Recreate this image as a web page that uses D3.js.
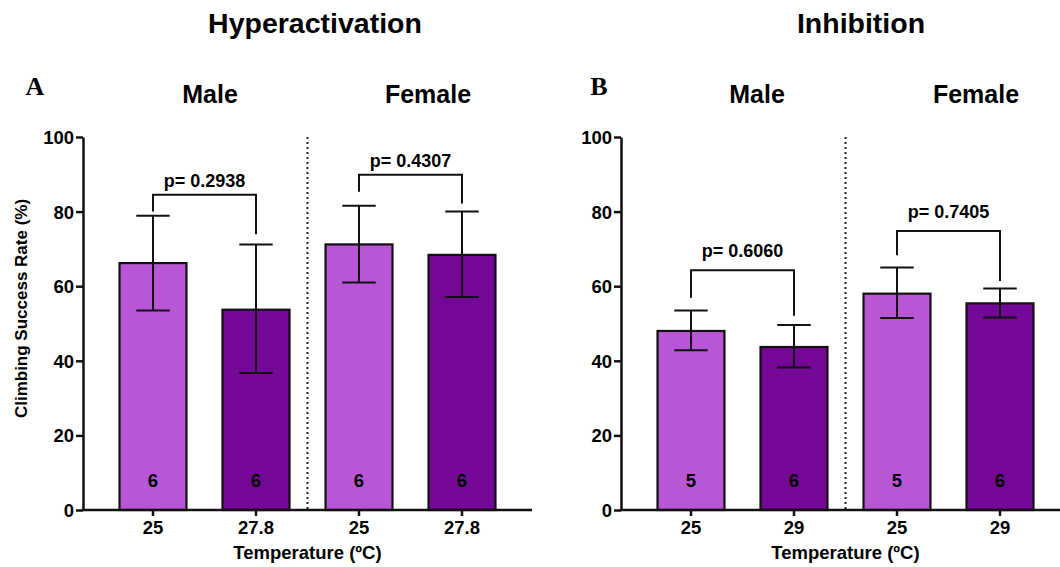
<!DOCTYPE html>
<html><head><meta charset="utf-8">
<script src="https://cdn.jsdelivr.net/npm/d3@7"></script>
<style>
body{margin:0;background:#fff;}
svg{display:block;}
text{font-family:"Liberation Sans",Arial,sans-serif;font-weight:bold;fill:#000;}
</style></head><body>
<svg id="c" width="1060" height="567"></svg>
<script>
// ---- data ----
const panels = ["Hyperactivation", "Inhibition"];
const panelLetters = ["A", "B"];
const sexes = ["Male", "Female"];
const tempLabelsA = ["25", "27.8", "25", "27.8"];
const tempLabelsB = ["25", "29", "25", "29"];
const meansA = [66.2, 53.7, 71.2, 68.4];
const errHiA = [78.9, 71.2, 81.6, 80.0];
const errLoA = [53.5, 36.7, 61.0, 57.1];
const nA = [6, 6, 6, 6];
const meansB = [48.0, 43.7, 58.0, 55.4];
const errHiB = [53.5, 49.6, 65.0, 59.4];
const errLoB = [42.8, 38.2, 51.5, 51.6];
const nB = [5, 6, 5, 6];
const pValuesA = ["p= 0.2938", "p= 0.4307"];
const pValuesB = ["p= 0.6060", "p= 0.7405"];
const bracketTopA = [84.5, 89.9];
const bracketLegA = [[80.0, 73.9], [85.3, 82.2]];
const bracketTopB = [64.3, 74.8];
const bracketLegB = [[56.9, 52.1], [68.3, 61.4]];
const yTicks = [0, 20, 40, 60, 80, 100];
const yTitle = "Climbing Success Rate (%)";
const xTitle = "Temperature (\u00BAC)";
const barColors = ["#B856D6", "#730796"];

const data = [
  {title: panels[0], letter: panelLetters[0], labels: tempLabelsA, means: meansA, hi: errHiA, lo: errLoA, n: nA, p: pValuesA, bTop: bracketTopA, bLeg: bracketLegA},
  {title: panels[1], letter: panelLetters[1], labels: tempLabelsB, means: meansB, hi: errHiB, lo: errLoB, n: nB, p: pValuesB, bTop: bracketTopB, bLeg: bracketLegB}
];

// ---- layout ----
const layout = [
  {axisX: 83, bandStart: 101.5, xEnd: 532, titleX: 315, letterX: 35, sexX: [210, 428], pGap: 8, showYTitle: true},
  {axisX: 621, bandStart: 639.5, xEnd: 1060, titleX: 861, letterX: 599, sexX: [757, 976], pGap: 13, showYTitle: false}
];
const y = d3.scaleLinear().domain([0, 100]).range([510, 137]);
const svg = d3.select("#c");

data.forEach((d, pi) => {
  const L = layout[pi];
  const ids = d3.range(4);
  const x = d3.scaleBand().domain(ids).range([L.bandStart, L.bandStart + 412]).paddingInner(0.35).paddingOuter(0.175);
  const g = svg.append("g");
  const bw = x.bandwidth();

  // titles
  g.append("text").attr("x", L.titleX).attr("y", 33).attr("text-anchor", "middle").style("font-size", "28.5px").text(d.title);
  g.append("text").attr("x", L.letterX).attr("y", 95).attr("text-anchor", "middle")
    .style("font-family", "'Liberation Serif','Times New Roman',serif").style("font-size", "26px").text(d.letter);
  sexes.forEach((s, si) => {
    g.append("text").attr("x", L.sexX[si]).attr("y", 103).attr("text-anchor", "middle").style("font-size", "25px").text(s);
  });

  // bars
  g.selectAll("rect.bar").data(ids).join("rect").attr("class", "bar")
    .attr("x", i => x(i)).attr("width", bw)
    .attr("y", i => y(d.means[i])).attr("height", i => y(0) - y(d.means[i]))
    .attr("fill", i => barColors[i % 2]).attr("stroke", "#111").attr("stroke-width", 2.2);

  // error bars
  const eb = g.selectAll("g.eb").data(ids).join("g").attr("class", "eb")
    .attr("stroke", "#111").attr("stroke-width", 2);
  const cap = bw * 0.5;
  eb.append("line").attr("x1", i => x(i) + bw / 2).attr("x2", i => x(i) + bw / 2)
    .attr("y1", i => y(d.hi[i])).attr("y2", i => y(d.lo[i]));
  eb.append("line").attr("x1", i => x(i) + bw / 2 - cap / 2).attr("x2", i => x(i) + bw / 2 + cap / 2)
    .attr("y1", i => y(d.hi[i])).attr("y2", i => y(d.hi[i]));
  eb.append("line").attr("x1", i => x(i) + bw / 2 - cap / 2).attr("x2", i => x(i) + bw / 2 + cap / 2)
    .attr("y1", i => y(d.lo[i])).attr("y2", i => y(d.lo[i]));

  // n labels
  g.selectAll("text.n").data(ids).join("text").attr("class", "n")
    .attr("x", i => x(i) + bw / 2).attr("y", 487).attr("text-anchor", "middle")
    .style("font-size", "18.5px").text(i => d.n[i]);

  // brackets
  [0, 1].forEach(si => {
    const xa = x(si * 2) + bw / 2, xb = x(si * 2 + 1) + bw / 2;
    const yt = y(d.bTop[si]);
    g.append("path").attr("fill", "none").attr("stroke", "#111").attr("stroke-width", 2)
      .attr("d", `M${xa},${y(d.bLeg[si][0])}V${yt}H${xb}V${y(d.bLeg[si][1])}`);
    g.append("text").attr("x", (xa + xb) / 2).attr("y", yt - L.pGap).attr("text-anchor", "middle")
      .style("font-size", "18px").text(d.p[si]);
  });

  // separator
  const sepX = (x(1) + bw + x(2)) / 2;
  g.append("line").attr("x1", sepX).attr("x2", sepX).attr("y1", y(100)).attr("y2", y(0))
    .attr("stroke", "#222").attr("stroke-width", 2).attr("stroke-dasharray", "2,3");

  // y axis
  const ya = g.append("g").attr("transform", `translate(${L.axisX},0)`)
    .call(d3.axisLeft(y).tickValues(yTicks).tickSize(7).tickSizeOuter(0).tickPadding(2));
  ya.select(".domain").attr("stroke", "#111").attr("stroke-width", 2.5);
  ya.selectAll(".tick line").attr("stroke", "#111").attr("stroke-width", 2.5);
  ya.selectAll(".tick text").style("font-size", "18.5px").style("font-family", "'Liberation Sans',Arial,sans-serif").style("font-weight", "bold").attr("fill", "#000").attr("dy", "0.35em");

  // x axis
  const xa = g.append("g").attr("transform", `translate(0,${y(0)})`)
    .call(d3.axisBottom(x).tickFormat(i => d.labels[i]).tickSize(6).tickSizeOuter(0).tickPadding(5));
  xa.select(".domain").remove();
  xa.selectAll(".tick line").attr("stroke", "#111").attr("stroke-width", 2.5);
  xa.selectAll(".tick text").style("font-size", "18.5px").style("font-family", "'Liberation Sans',Arial,sans-serif").style("font-weight", "bold").attr("fill", "#000");
  g.append("line").attr("x1", L.axisX - 1.25).attr("x2", L.xEnd).attr("y1", y(0)).attr("y2", y(0))
    .attr("stroke", "#111").attr("stroke-width", 2.5);

  g.append("text").attr("x", sepX).attr("y", 559).attr("text-anchor", "middle").style("font-size", "18.5px").text(xTitle);

  if (L.showYTitle) {
    g.append("text").attr("transform", `translate(27,${(y(0) + y(100)) / 2 - 15}) rotate(-90)`)
      .attr("text-anchor", "middle").style("font-size", "17px").text(yTitle);
  }
});
</script>
</body></html>
